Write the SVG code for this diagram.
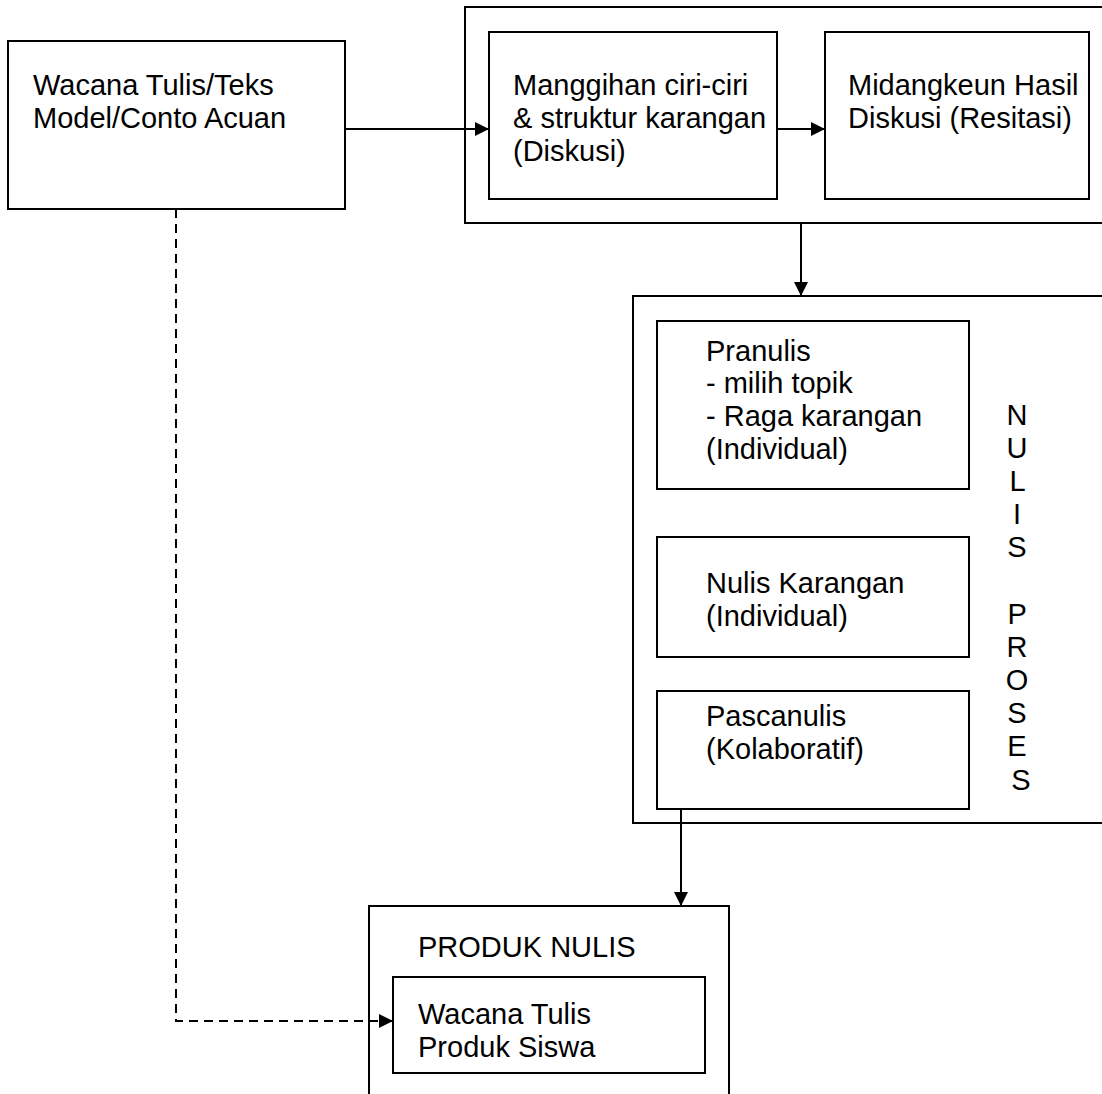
<svg xmlns="http://www.w3.org/2000/svg" width="1102" height="1094" viewBox="0 0 1102 1094">
<style>
  .box { fill: #ffffff; stroke: #000000; stroke-width: 2; }
  .frame { fill: none; stroke: #000000; stroke-width: 2; }
  .t { font-family: "Liberation Sans", Arial, sans-serif; font-size: 29px; fill: #000000; }
  .c { fill: none; stroke: #000000; stroke-width: 2; }
  .dash { stroke-dasharray: 9 6; }
</style>
<defs>
  <marker id="ah" viewBox="0 0 14 14" refX="14" refY="7" markerWidth="14" markerHeight="14" markerUnits="userSpaceOnUse" orient="auto">
    <path d="M0,0 L14,7 L0,14 Z" fill="#000000"/>
  </marker>
</defs>
<rect width="1102" height="1094" fill="#ffffff"/>

<g id="group-diskusi">
  <rect class="frame" x="465" y="7" width="650" height="216"/>
</g>
<g id="group-nulis-proses">
  <rect class="frame" x="633" y="296" width="482" height="527"/>
  <text class="t" text-anchor="middle">
    <tspan x="1021" y="425">N</tspan>
    <tspan x="1021" y="458">U</tspan>
    <tspan x="1021" y="491">L</tspan>
    <tspan x="1021" y="524">I</tspan>
    <tspan x="1021" y="557">S</tspan>
    <tspan x="1021" y="624">P</tspan>
    <tspan x="1021" y="657">R</tspan>
    <tspan x="1021" y="690">O</tspan>
    <tspan x="1021" y="723">S</tspan>
    <tspan x="1021" y="756">E</tspan>
    <tspan x="1021" y="790">S</tspan>
  </text>
</g>
<g id="group-produk">
  <rect class="frame" x="369" y="906" width="360" height="200"/>
  <text class="t" x="418" y="957">PRODUK NULIS</text>
</g>

<g id="node-wacana">
  <rect class="box" x="8" y="41" width="337" height="168"/>
  <text class="t"><tspan x="33" y="95">Wacana Tulis/Teks</tspan><tspan x="33" y="128">Model/Conto Acuan</tspan></text>
</g>
<g id="node-manggihan">
  <rect class="box" x="489" y="32" width="288" height="167"/>
  <text class="t"><tspan x="513" y="95">Manggihan ciri-ciri</tspan><tspan x="513" y="128">&amp; struktur karangan</tspan><tspan x="513" y="161">(Diskusi)</tspan></text>
</g>
<g id="node-midangkeun">
  <rect class="box" x="825" y="32" width="264" height="167"/>
  <text class="t"><tspan x="848" y="95">Midangkeun Hasil</tspan><tspan x="848" y="128">Diskusi (Resitasi)</tspan></text>
</g>
<g id="node-pranulis">
  <rect class="box" x="657" y="321" width="312" height="168"/>
  <text class="t"><tspan x="706" y="361">Pranulis</tspan><tspan x="706" y="393">- milih topik</tspan><tspan x="706" y="426">- Raga karangan</tspan><tspan x="706" y="459">(Individual)</tspan></text>
</g>
<g id="node-nulis-karangan">
  <rect class="box" x="657" y="537" width="312" height="120"/>
  <text class="t"><tspan x="706" y="593">Nulis Karangan</tspan><tspan x="706" y="626">(Individual)</tspan></text>
</g>
<g id="node-pascanulis">
  <rect class="box" x="657" y="691" width="312" height="118"/>
  <text class="t"><tspan x="706" y="726">Pascanulis</tspan><tspan x="706" y="759">(Kolaboratif)</tspan></text>
</g>
<g id="node-produk-siswa">
  <rect class="box" x="393" y="977" width="312" height="96"/>
  <text class="t"><tspan x="418" y="1024">Wacana Tulis</tspan><tspan x="418" y="1057">Produk Siswa</tspan></text>
</g>

<g id="connectors">
  <line class="c" x1="345" y1="129" x2="489" y2="129" marker-end="url(#ah)"/>
  <line class="c" x1="777" y1="129" x2="825" y2="129" marker-end="url(#ah)"/>
  <line class="c" x1="801" y1="223" x2="801" y2="296" marker-end="url(#ah)"/>
  <line class="c" x1="681" y1="809" x2="681" y2="906" marker-end="url(#ah)"/>
  <polyline class="c dash" points="176,209 176,1021 393,1021" marker-end="url(#ah)"/>
</g>
</svg>
